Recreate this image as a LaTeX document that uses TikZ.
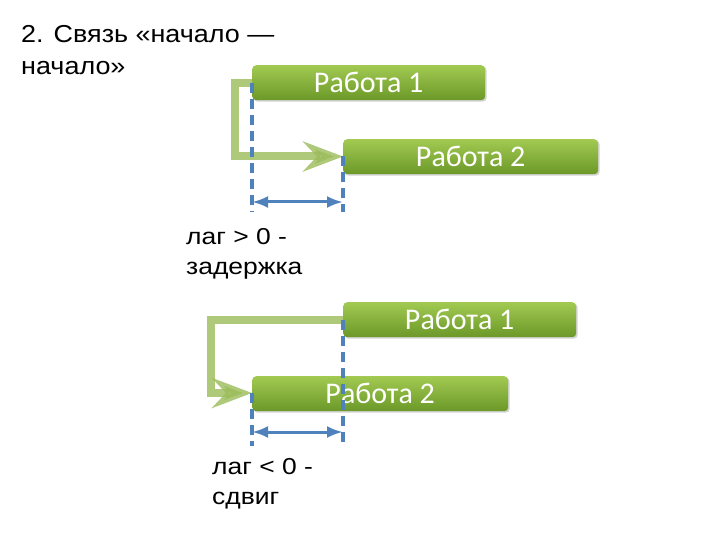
\documentclass[tikz,border=0pt]{standalone}
\usepackage{fontspec}
\setmainfont{Carlito}
\newfontfamily\titlefont[FakeStretch=1.1]{Liberation Sans}
\newfontfamily\labelfont[FakeStretch=1.15]{Liberation Sans}
\usetikzlibrary{arrows.meta,shadows}
\definecolor{gtop}{HTML}{A2CA52}
\definecolor{gbot}{HTML}{6B9828}
\definecolor{conn}{HTML}{9BBB59}
\definecolor{lagblue}{HTML}{4F81BD}
\tikzset{
  task/.style={rounded corners=4pt, top color=gtop, bottom color=gbot, draw=none,
    text=white, font=\fontsize{30}{32}\selectfont, inner sep=0pt, anchor=north west,
    minimum height=35pt,
    drop shadow={shadow xshift=1.5pt, shadow yshift=-1.5pt, opacity=0.35}},
  link/.style={draw=conn, line width=8pt, opacity=0.8,
    -{Stealth[length=40pt, width=30pt, inset=14pt]}},
  guide/.style={draw=lagblue, line width=3.4pt, dash pattern=on 10pt off 6pt},
  lag/.style={draw=lagblue, line width=3pt, {Latex[length=16pt,width=12pt]}-{Latex[length=16pt,width=12pt]}},
  lbl/.style={font=\labelfont\fontsize{23}{29.5}\selectfont, align=left, anchor=base west, inner sep=0pt}
}
\begin{document}
\begin{tikzpicture}[x=1pt,y=-1pt]
\useasboundingbox (0,0) rectangle (720,540);
% title (base anchor = baseline of the last line)
\node[anchor=base west, inner sep=0pt, align=left, font=\titlefont\fontsize{24.5}{32}\selectfont] (title) at (21,75) {2. Связь «начало —\\начало»};
% ---- top: lag > 0
\node[task, minimum width=233pt] (a1) at (252,65) {Работа 1};
\node[task, minimum width=255pt] (a2) at (343,139) {Работа 2};
\coordinate (a1s) at (252,83.5);
\coordinate (a2s) at (343,156.5);
\draw[link] (a1s) -- (235,83.5) -- (235,156.5) -- (a2s);
\coordinate (ga1) at (252,212);
\coordinate (ga2) at (343,212);
\draw[guide] (a1s) -- (ga1);
\draw[guide] (a2s) -- (ga2);
\coordinate (la1) at (252,202);
\coordinate (la2) at (343,202);
\draw[lag] (la1) -- (la2);
\node[lbl] (l1) at (186,274) {лаг > 0 -\\задержка};
% ---- bottom: lag < 0
\node[task, minimum width=233pt] (b1) at (343,302) {Работа 1};
\node[task, minimum width=256pt] (b2) at (252,376) {Работа 2};
\coordinate (b1s) at (343,320);
\coordinate (b2s) at (252,393);
\draw[link] (b1s) -- (211,320) -- (211,393) -- (b2s);
\coordinate (gb1) at (343,442);
\coordinate (gb2) at (252,446);
\draw[guide] (b1s) -- (gb1);
\draw[guide] (b2s) -- (gb2);
\coordinate (lb1) at (252,432);
\coordinate (lb2) at (343,432);
\draw[lag] (lb1) -- (lb2);
\node[lbl] (l2) at (212,504) {лаг < 0 -\\сдвиг};
\end{tikzpicture}
\end{document}
